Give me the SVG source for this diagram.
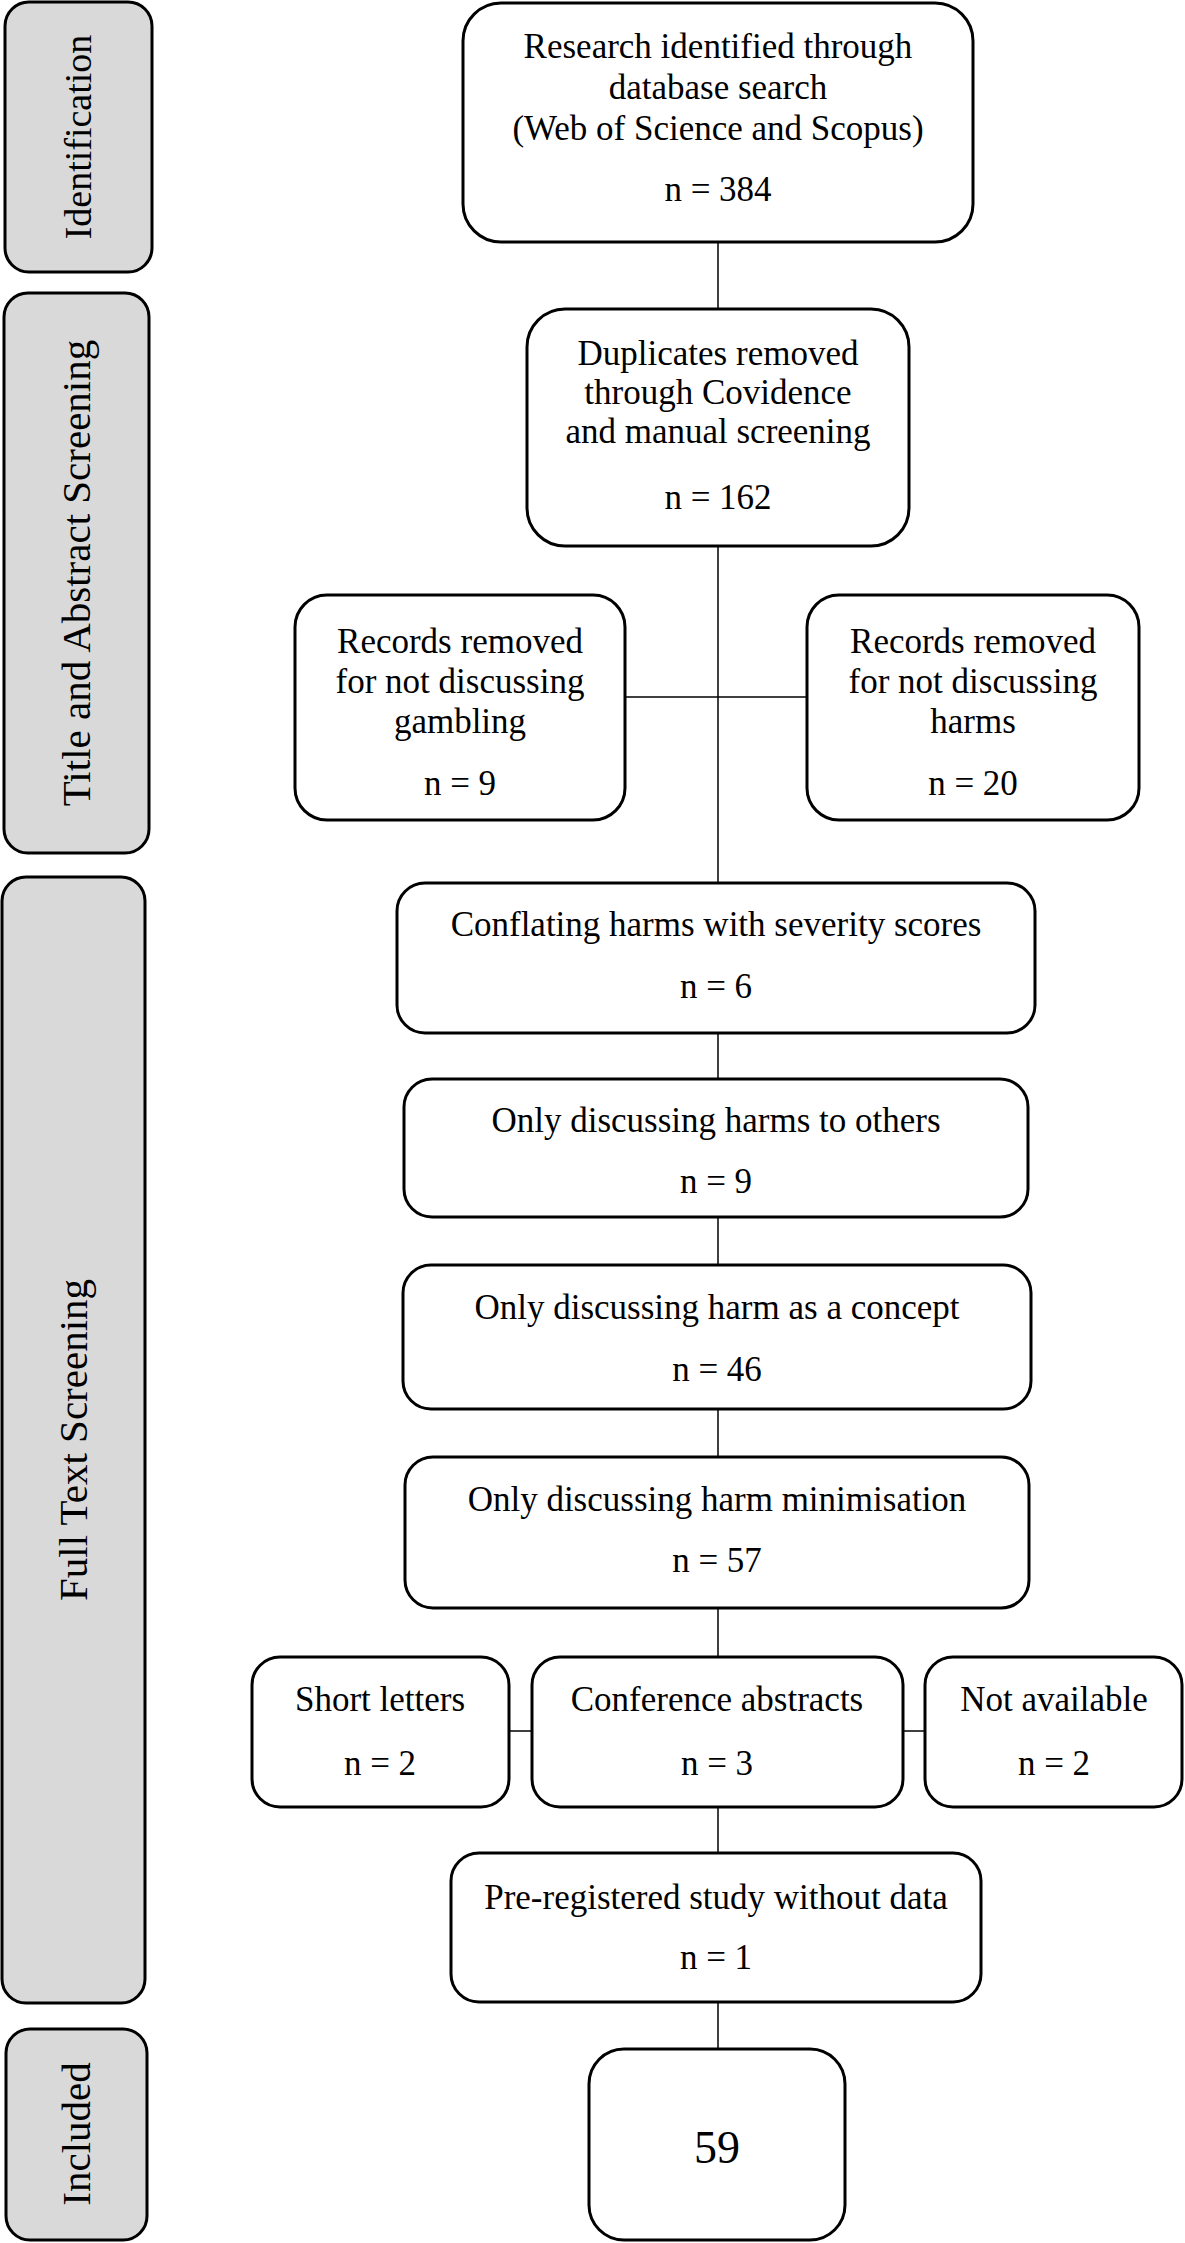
<svg xmlns="http://www.w3.org/2000/svg" width="1185" height="2243" viewBox="0 0 1185 2243">
<style>
  .lbl { fill: #d9d9d9; stroke: #000; stroke-width: 3; }
  .box { fill: #fff; stroke: #000; stroke-width: 3; }
  .conn { stroke: #000; stroke-width: 1.5; fill: none; }
  text { font-family: "Liberation Serif", "Times New Roman", serif; fill: #000; text-anchor: middle; }
  .t { font-size: 35px; }
  .lt { font-size: 41px; }
  .big { font-size: 46px; }
</style>
<rect width="1185" height="2243" fill="#fff"/>
<g id="connectors">
  <line class="conn" x1="718" y1="242" x2="718" y2="309"/>
  <line class="conn" x1="718" y1="546" x2="718" y2="883"/>
  <line class="conn" x1="625" y1="697" x2="807" y2="697"/>
  <line class="conn" x1="718" y1="1033" x2="718" y2="1079"/>
  <line class="conn" x1="718" y1="1217" x2="718" y2="1265"/>
  <line class="conn" x1="718" y1="1409" x2="718" y2="1457"/>
  <line class="conn" x1="718" y1="1608" x2="718" y2="1657"/>
  <line class="conn" x1="509" y1="1731" x2="532" y2="1731"/>
  <line class="conn" x1="903" y1="1731" x2="925" y2="1731"/>
  <line class="conn" x1="718" y1="1807" x2="718" y2="1853"/>
  <line class="conn" x1="718" y1="2002" x2="718" y2="2049"/>
</g>
<g id="label-identification">
  <rect class="lbl" x="5" y="2" width="147" height="270" rx="24"/>
  <text transform="translate(91,137) rotate(-90)" style="font-size:38px">Identification</text>
</g>
<g id="label-title-abstract">
  <rect class="lbl" x="4" y="293" width="145" height="560" rx="24"/>
  <text class="lt" transform="translate(90,573) rotate(-90)">Title and Abstract Screening</text>
</g>
<g id="label-full-text">
  <rect class="lbl" x="2" y="877" width="143" height="1126" rx="24"/>
  <text class="lt" transform="translate(87,1440) rotate(-90)">Full Text Screening</text>
</g>
<g id="label-included">
  <rect class="lbl" x="6" y="2029" width="141" height="211" rx="24"/>
  <text class="lt" transform="translate(90,2134) rotate(-90)">Included</text>
</g>
<g id="node-research">
  <rect class="box" x="463" y="3" width="510" height="239" rx="38"/>
  <text class="t" x="718" y="58">Research identified through</text>
  <text class="t" x="718" y="99">database search</text>
  <text class="t" x="718" y="140">(Web of Science and Scopus)</text>
  <text class="t" x="718" y="201">n = 384</text>
</g>
<g id="node-duplicates">
  <rect class="box" x="527" y="309" width="382" height="237" rx="38"/>
  <text class="t" x="718" y="365">Duplicates removed</text>
  <text class="t" x="718" y="404">through Covidence</text>
  <text class="t" x="718" y="443">and manual screening</text>
  <text class="t" x="718" y="509">n = 162</text>
</g>
<g id="node-not-gambling">
  <rect class="box" x="295" y="595" width="330" height="225" rx="32"/>
  <text class="t" x="460" y="653">Records removed</text>
  <text class="t" x="460" y="693">for not discussing</text>
  <text class="t" x="460" y="733">gambling</text>
  <text class="t" x="460" y="795">n = 9</text>
</g>
<g id="node-not-harms">
  <rect class="box" x="807" y="595" width="332" height="225" rx="32"/>
  <text class="t" x="973" y="653">Records removed</text>
  <text class="t" x="973" y="693">for not discussing</text>
  <text class="t" x="973" y="733">harms</text>
  <text class="t" x="973" y="795">n = 20</text>
</g>
<g id="node-conflating">
  <rect class="box" x="397" y="883" width="638" height="150" rx="28"/>
  <text class="t" x="716" y="936">Conflating harms with severity scores</text>
  <text class="t" x="716" y="998">n = 6</text>
</g>
<g id="node-others">
  <rect class="box" x="404" y="1079" width="624" height="138" rx="28"/>
  <text class="t" x="716" y="1132">Only discussing harms to others</text>
  <text class="t" x="716" y="1193">n = 9</text>
</g>
<g id="node-concept">
  <rect class="box" x="403" y="1265" width="628" height="144" rx="28"/>
  <text class="t" x="717" y="1319">Only discussing harm as a concept</text>
  <text class="t" x="717" y="1381">n = 46</text>
</g>
<g id="node-minimisation">
  <rect class="box" x="405" y="1457" width="624" height="151" rx="28"/>
  <text class="t" x="717" y="1511">Only discussing harm minimisation</text>
  <text class="t" x="717" y="1572">n = 57</text>
</g>
<g id="node-short-letters">
  <rect class="box" x="252" y="1657" width="257" height="150" rx="28"/>
  <text class="t" x="380" y="1711">Short letters</text>
  <text class="t" x="380" y="1775">n = 2</text>
</g>
<g id="node-conference">
  <rect class="box" x="532" y="1657" width="371" height="150" rx="28"/>
  <text class="t" x="717" y="1711">Conference abstracts</text>
  <text class="t" x="717" y="1775">n = 3</text>
</g>
<g id="node-not-available">
  <rect class="box" x="925" y="1657" width="257" height="150" rx="28"/>
  <text class="t" x="1054" y="1711">Not available</text>
  <text class="t" x="1054" y="1775">n = 2</text>
</g>
<g id="node-preregistered">
  <rect class="box" x="451" y="1853" width="530" height="149" rx="28"/>
  <text class="t" x="716" y="1909">Pre-registered study without data</text>
  <text class="t" x="716" y="1969">n = 1</text>
</g>
<g id="node-included">
  <rect class="box" x="589" y="2049" width="256" height="191" rx="35"/>
  <text class="big" x="717" y="2163">59</text>
</g>
</svg>
